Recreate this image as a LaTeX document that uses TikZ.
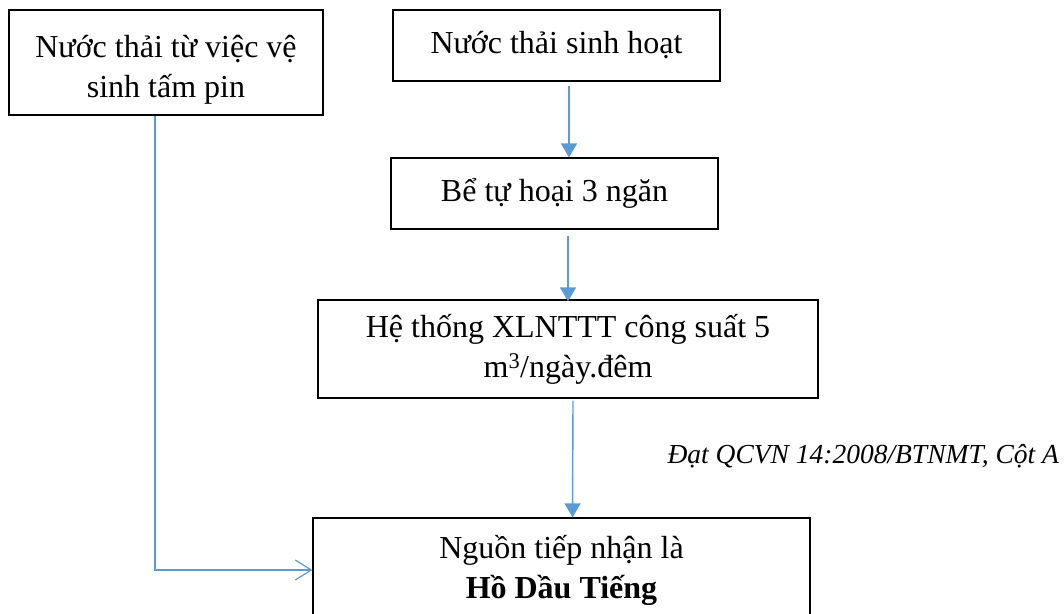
\documentclass[tikz,border=0pt]{standalone}
\usepackage{fontspec}
\setmainfont{Liberation Serif}
\usetikzlibrary{positioning}
\usetikzlibrary{arrows.meta}
\definecolor{flowblue}{RGB}{91,155,213}

\begin{document}
\begin{tikzpicture}[x=1pt, y=-1pt,
    box/.style={draw=black, line width=1.2pt, align=center, inner sep=0pt,
        font=\fontsize{32}{40}\selectfont},
    flow/.style={draw=flowblue, line width=1.4pt, -{Triangle[width=16pt,length=14pt]}},
    openflow/.style={draw=flowblue, line width=1.2pt, -{Straight Barb[width=20pt,length=16pt,line width=1.2pt]}}]
    \useasboundingbox (0,0) rectangle (1064,613);

    \node[box, minimum width=314pt, minimum height=105pt] (panel) at (166,62.5)
        {\rule{0pt}{37pt}Nước thải từ việc vệ\\sinh tấm pin};
    \node[box, minimum width=327pt, minimum height=71pt] (domestic) at (556.5,45.5)
        {Nước thải sinh hoạt};
    \node[box, minimum width=327pt, minimum height=71pt] (septic) at (554.5,193.5)
        {Bể tự hoại 3 ngăn};
    \node[box, minimum width=500pt, minimum height=98pt] (plant) at (568,349)
        {Hệ thống XLNTTT công suất 5\\m\textsuperscript{3}/ngày.đêm};
    \node[box, minimum width=497pt, minimum height=104pt] (lake) at (561.5,570)
        {Nguồn tiếp nhận là\\\textbf{Hồ Dầu Tiếng}};

    \node[anchor=west, font=\fontsize{27.5}{33}\selectfont\itshape] (standard) at (664,456)
        {Đạt QCVN 14:2008/BTNMT, Cột A};

    \draw[flow] ([xshift=12.5pt, yshift=-4pt]domestic.south) -- ([xshift=14.5pt]septic.north);
    \draw[flow] ([xshift=13.5pt, yshift=-6pt]septic.south) -- ([yshift=-2pt]plant.north);
    \draw[flow] ([xshift=5pt, yshift=-2pt]plant.south) -- ([xshift=11pt]lake.north);

    \draw[openflow] ([xshift=-11pt]panel.south) |- (lake.west);
\end{tikzpicture}
\end{document}
